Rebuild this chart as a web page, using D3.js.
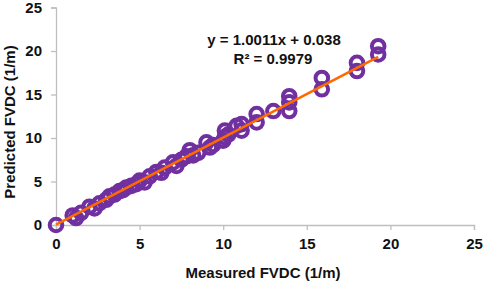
<!DOCTYPE html>
<html><head><meta charset="utf-8">
<script src="https://cdn.jsdelivr.net/npm/d3@7"></script>
<style>body{margin:0;background:#fff}svg{display:block}text{font-family:"Liberation Sans",Arial,sans-serif;font-weight:bold}</style>
</head><body><svg id="c" width="484" height="282"></svg>
<script>
const measured  = [0,1.0,1.2,1.5,2.0,2.3,2.6,3.0,3.2,3.5,3.8,4.0,4.2,4.5,4.8,5.0,5.3,5.6,6.0,6.3,6.5,7.0,7.2,7.5,7.8,8.0,8.2,8.5,9.0,9.2,9.4,10.0,10.1,10.1,10.3,10.8,11.1,11.1,12.0,12.0,13.0,13.95,13.95,13.95,15.9,15.9,18.0,18.0,19.27,19.27];
const predicted = [0,1.1,0.8,1.4,2.1,1.9,2.5,2.9,3.3,3.5,3.9,4.0,4.3,4.5,4.7,5.1,4.9,5.6,6.1,6.0,6.6,7.2,6.8,7.5,7.9,8.6,8.0,8.3,9.5,8.9,9.2,9.7,10.1,10.85,10.4,11.4,11.6,10.85,12.75,11.8,13.1,14.8,14.1,13.1,16.9,15.6,18.64,17.7,20.55,19.6];
const xTicks = [0,5,10,15,20,25];
const yTicks = [0,5,10,15,20,25];
const slope = 1.0011, intercept = 0.038;
const eqLabel = "y = 1.0011x + 0.038";
const r2Label = "R\u00b2 = 0.9979";
const xTitle = "Measured FVDC (1/m)";
const yTitle = "Predicted FVDC (1/m)";

const svg = d3.select("#c");
const x = d3.scaleLinear().domain([0,25]).range([56,474]);
const y = d3.scaleLinear().domain([0,25]).range([225,7.5]);
const axisColor = "#bfbfbf";

const gx = svg.append("g").attr("transform","translate(0,225)")
  .call(d3.axisBottom(x).tickValues(xTicks).tickSize(5).tickPadding(8).tickFormat(d3.format("d")));
const gy = svg.append("g").attr("transform","translate(56,0)")
  .call(d3.axisLeft(y).tickValues(yTicks).tickSize(5).tickPadding(9).tickFormat(d3.format("d")));
[gx,gy].forEach(g=>{
  g.select(".domain").attr("stroke",axisColor).attr("stroke-width",1.3);
  g.selectAll(".tick line").attr("stroke",axisColor).attr("stroke-width",1.3);
  g.selectAll(".tick text").attr("fill","#111").style("font-size","15px").style("font-family","'Liberation Sans',Arial,sans-serif").style("font-weight","bold");
});

const pts = measured.map((m,i)=>({m, p: predicted[i]}));
svg.append("g").selectAll("circle").data(pts).join("circle")
  .attr("cx",d=>x(d.m)).attr("cy",d=>y(d.p)).attr("r",6.3)
  .attr("fill","none").attr("stroke","#7030a0").attr("stroke-width",4);

const xs = d3.extent(measured);
svg.append("line")
  .attr("x1",x(xs[0])).attr("y1",y(slope*xs[0]+intercept))
  .attr("x2",x(xs[1])).attr("y2",y(slope*xs[1]+intercept))
  .attr("stroke","#ff6a00").attr("stroke-width",2.6);

svg.append("text").attr("x",274).attr("y",45).attr("text-anchor","middle")
  .style("font-size","15px").attr("fill","#111").text(eqLabel);
svg.append("text").attr("x",273).attr("y",64).attr("text-anchor","middle")
  .style("font-size","15px").attr("fill","#111").text(r2Label);

svg.append("text").attr("x",263).attr("y",278).attr("text-anchor","middle")
  .style("font-size","15px").attr("fill","#111").text(xTitle);
svg.append("text").attr("transform","translate(15,122) rotate(-90)").attr("text-anchor","middle")
  .style("font-size","15px").attr("fill","#111").text(yTitle);
</script></body></html>
